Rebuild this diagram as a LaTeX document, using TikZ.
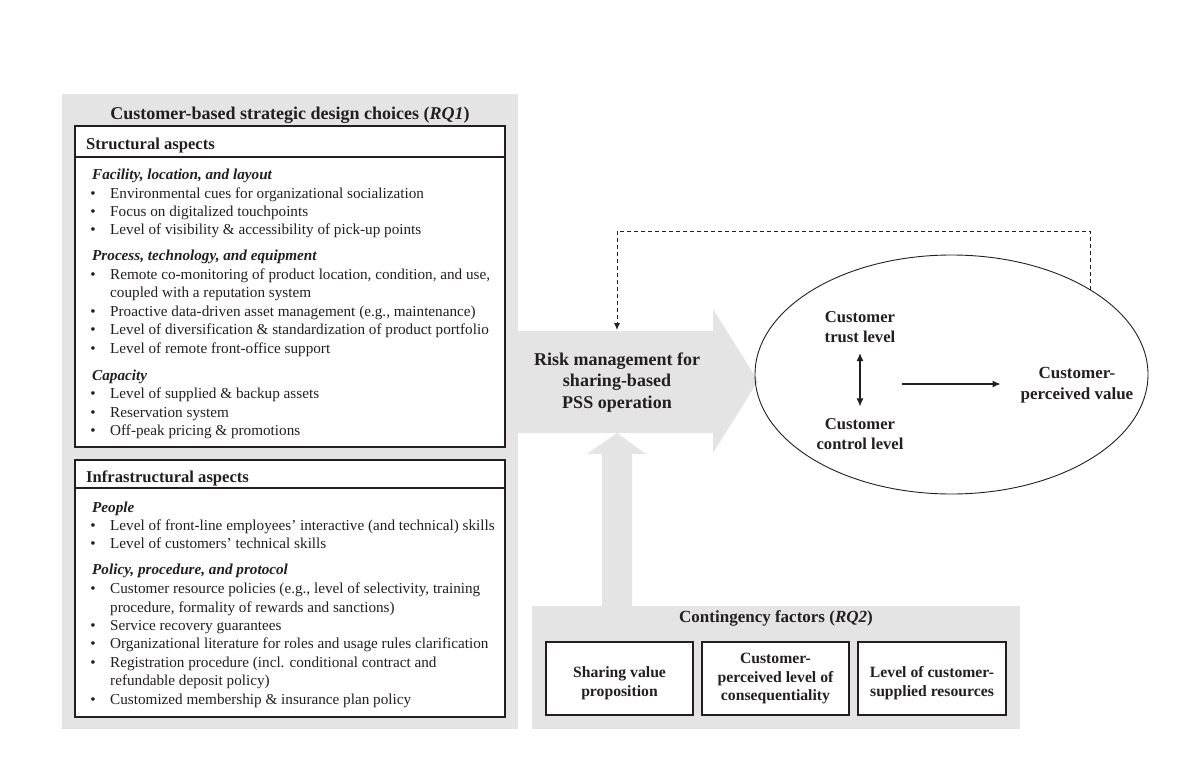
\documentclass[tikz,border=0pt]{standalone}
\usepackage{fontspec}
\setmainfont{Liberation Serif}
\usetikzlibrary{shapes.geometric,arrows.meta}
\definecolor{pg}{RGB}{228,228,229}
\definecolor{ink}{RGB}{35,31,32}
\newcommand\bitem[3]{\node[bul] (#1b) at (93,#2) {\textbullet}; \node[bodytxt] (#1) at (110,#2) {#3};}
\begin{document}
\begin{tikzpicture}[x=1pt,y=-1pt,
  every node/.style={text=ink, inner sep=0pt},
  bodytxt/.style={anchor=base west, font=\fontsize{15.2}{18.3}\selectfont},
  bul/.style={anchor=base, font=\fontsize{15.2}{18.3}\selectfont},
  subhd/.style={anchor=base west, font=\fontsize{15.2}{18.3}\selectfont\bfseries\itshape},
  secthd/.style={anchor=base west, font=\fontsize{16.6}{20}\selectfont\bfseries},
  wbox/.style={draw=ink, line width=1.1pt, fill=white},
  cbox/.style={draw=ink, line width=1.1pt, fill=white, rectangle, minimum height=73pt},
  ctext/.style={align=center, font=\fontsize{15.7}{18.8}\selectfont\bfseries},
  elltext/.style={align=center, font=\fontsize{16.6}{20}\selectfont\bfseries},
  arr/.style={draw=ink, line width=1.1pt, -{Latex[length=8pt,width=7pt]}},
  darr/.style={draw=ink, line width=1.1pt, {Latex[length=8pt,width=7pt]}-{Latex[length=8pt,width=7pt]}},
  fb/.style={draw=ink, line width=0.9pt, dash pattern=on 4pt off 3pt, -{Latex[length=7pt,width=6pt]}}
]
\useasboundingbox (0,0) rectangle (1200,771);
\fill[white] (0,0) rectangle (1200,771);

% gray panels and broad arrows
\fill[pg] (62,94) rectangle (518,729);
\fill[pg] (532,606) rectangle (1020,729);
\fill[pg] (510,331) -- (713,331) -- (713,309) -- (758,381) -- (713,453) -- (713,433) -- (510,433) -- cycle;
\fill[pg] (602,610) -- (602,454) -- (587,454) -- (617,433) -- (646,454) -- (632,454) -- (632,610) -- cycle;

% left panel
\node[anchor=base, font=\fontsize{18}{21}\selectfont\bfseries] (hd) at (290,119) {Customer-based strategic design choices (\textit{RQ1})};

\draw[wbox] (75,126) rectangle (505,447);
\draw[ink, line width=1.1pt] (75,157) -- (505,157);
\node[secthd] (sa) at (86,149) {Structural aspects};
\node[subhd] (s1) at (92,179) {Facility, location, and layout};
\bitem{a1}{198}{Environmental cues for organizational socialization}
\bitem{a2}{216}{Focus on digitalized touchpoints}
\bitem{a3}{234}{Level of visibility \& accessibility of pick-up points}
\node[subhd] (s2) at (92,260) {Process, technology, and equipment};
\bitem{b1}{279}{Remote co-monitoring of product location, condition, and use,}
\node[bodytxt] (b1x) at (110,297) {coupled with a reputation system};
\bitem{b2}{316}{Proactive data-driven asset management (e.g., maintenance)}
\bitem{b3}{334}{Level of diversification \& standardization of product portfolio}
\bitem{b4}{353}{Level of remote front-office support}
\node[subhd] (s3) at (92,380) {Capacity};
\bitem{c1}{398}{Level of supplied \& backup assets}
\bitem{c2}{417}{Reservation system}
\bitem{c3}{435}{Off-peak pricing \& promotions}

\draw[wbox] (75,460) rectangle (505,717);
\draw[ink, line width=1.1pt] (75,488) -- (505,488);
\node[secthd] (ia) at (86,482) {Infrastructural aspects};
\node[subhd] (s4) at (92,512) {People};
\bitem{d1}{530}{Level of front-line employees’ interactive (and technical) skills}
\bitem{d2}{548}{Level of customers’ technical skills}
\node[subhd] (s5) at (92,574) {Policy, procedure, and protocol};
\bitem{e1}{593}{Customer resource policies (e.g., level of selectivity, training}
\node[bodytxt] (e1x) at (110,612) {procedure, formality of rewards and sanctions)};
\bitem{e2}{630}{Service recovery guarantees}
\bitem{e3}{648}{Organizational literature for roles and usage rules clarification}
\bitem{e4}{667}{Registration procedure (incl. conditional contract and}
\node[bodytxt] (e4x) at (110,685) {refundable deposit policy)};
\bitem{e5}{704}{Customized membership \& insurance plan policy}

% risk management
\node[align=center, font=\fontsize{18}{21.5}\selectfont\bfseries] (risk) at (617,382.3) {Risk management for\\sharing-based\\PSS operation};

% ellipse
\node[ellipse, draw=ink, line width=0.9pt, minimum width=393pt, minimum height=239pt, inner sep=0pt] (ell) at (951.5,374.5) {};
\node[elltext] (trust) at (860,327.3) {Customer\\trust level};
\node[elltext] (ctrl) at (860,433.9) {Customer\\control level};
\node[align=center, font=\fontsize{17}{21}\selectfont\bfseries] (cpv) at (1077,385.5) {Customer-\\perceived value};
\draw[darr] ([yshift=-10pt]trust.south) -- ([yshift=11.7pt]ctrl.north);
\coordinate (hstart) at (902,384);
\draw[arr, shorten >=20pt] (hstart) -- (cpv.west |- hstart);

% feedback loop
\coordinate (fbtop) at (617,231);
\coordinate (fbend) at (617,330);
\draw[fb] (ell.north east) |- (fbtop) -- (fbend);

% contingency factors
\node[anchor=base, font=\fontsize{17}{20}\selectfont\bfseries] (cf) at (776,622) {Contingency factors (\textit{RQ2})};
\node[cbox, minimum width=147pt] (k1) at (619.5,678.5) {};
\node[cbox, minimum width=147pt] (k2) at (775.5,678.5) {};
\node[cbox, minimum width=148pt] (k3) at (932,678.5) {};
\node[ctext] (k1t) at ([yshift=-4.4pt]k1.center) {Sharing value\\proposition};
\node[ctext] (k2t) at (k2.center) {Customer-\\perceived level of\\consequentiality};
\node[ctext] (k3t) at ([yshift=-4.4pt]k3.center) {Level of customer-\\supplied resources};
\end{tikzpicture}
\end{document}
